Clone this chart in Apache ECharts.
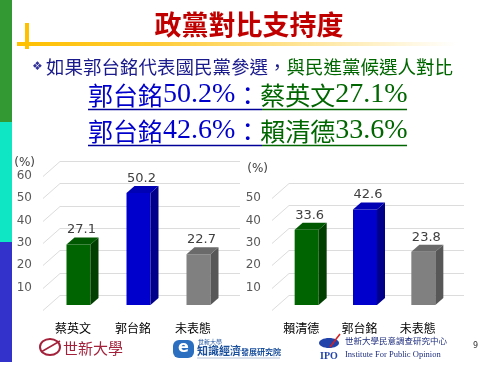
<!DOCTYPE html>
<html>
<head>
<meta charset="utf-8">
<script src="https://cdn.jsdelivr.net/npm/echarts@6/dist/echarts.min.js"></script>
<style>
html,body{margin:0;padding:0;background:#fff;}
#c{width:488px;height:367px;}
</style>
</head>
<body>
<div id="c"></div>
<script>
// ---- data ----
const categoriesLeft = ['蔡英文', '郭台銘', '未表態'];
const valuesLeft = [27.1, 50.2, 22.7];
const categoriesRight = ['賴清德', '郭台銘', '未表態'];
const valuesRight = [33.6, 42.6, 23.8];
const yTicksLeft = [0, 10, 20, 30, 40, 50, 60];
const yTicksRight = [0, 10, 20, 30, 40, 50];

// ---- styles ----
const barStyles = [
  { front: '#006400', side: '#003f00', top: '#005800' },
  { front: '#0000CC', side: '#00008A', top: '#0000B4' },
  { front: '#808080', side: '#575757', top: '#6a6a6a' }
];
const CJK = 'Noto Sans CJK TC';
const DEPTH = { dx: 8, dy: -7 };      // bar depth
const SHIFT = { dx: 5.5, dy: -5 };    // bar front offset from floor edge
const WALL = { dx: 17, dy: -15 };     // back wall offset
const BAR_W = 24;

function gridRender(params, api) {
  const cs = params.coordSys;
  const v = api.value(0);
  const y = Math.round(api.coord([0, v])[1]) + 0.5;
  const x0 = cs.x;
  return {
    type: 'polyline',
    shape: { points: [[x0, y], [x0 + WALL.dx, y + WALL.dy], [x0 + cs.width + WALL.dx, y + WALL.dy]] },
    style: { stroke: '#DCDCDC', lineWidth: 1, fill: null },
    z2: 0
  };
}

function barRender(params, api) {
  const idx = api.value(0);
  const v = api.value(1);
  const top = api.coord([idx, v]);
  const base = api.coord([idx, 0]);
  const st = barStyles[idx % barStyles.length];
  const fx = top[0] - BAR_W / 2 + SHIFT.dx;
  const ft = top[1] + SHIFT.dy;
  const fb = base[1] + SHIFT.dy;
  return {
    type: 'group',
    children: [
      { type: 'rect', shape: { x: fx, y: ft, width: BAR_W, height: fb - ft }, style: { fill: st.front } },
      { type: 'polygon', shape: { points: [[fx + BAR_W, ft], [fx + BAR_W + DEPTH.dx, ft + DEPTH.dy], [fx + BAR_W + DEPTH.dx, fb + DEPTH.dy], [fx + BAR_W, fb]] }, style: { fill: st.side } },
      { type: 'polygon', shape: { points: [[fx, ft], [fx + DEPTH.dx, ft + DEPTH.dy], [fx + BAR_W + DEPTH.dx, ft + DEPTH.dy], [fx + BAR_W, ft]] }, style: { fill: st.top } },
      { type: 'text', style: { text: v.toFixed(1), x: fx + BAR_W / 2 + 3, y: ft + DEPTH.dy - 1, textAlign: 'center', textVerticalAlign: 'bottom', font: '13px "DejaVu Sans"', fill: '#404040' } }
    ]
  };
}

function yAxisCfg(ticks, gridIndex, nameGap, padRight) {
  return {
    type: 'value', gridIndex: gridIndex,
    min: ticks[0], max: ticks[ticks.length - 1], interval: ticks[1] - ticks[0],
    name: '(%)', nameLocation: 'end', nameGap: nameGap,
    nameTextStyle: { fontFamily: 'DejaVu Sans', fontSize: 12, color: '#404040', align: 'right', verticalAlign: 'middle', padding: [0, padRight, 0, 0] },
    axisLine: { show: false }, axisTick: { show: false }, splitLine: { show: false },
    axisLabel: { fontFamily: 'DejaVu Sans', fontSize: 12, color: '#595959', margin: 11, formatter: v => v === 0 ? '' : String(v) }
  };
}
function xAxisCfg(cats, gridIndex) {
  return {
    type: 'category', gridIndex: gridIndex, data: cats,
    axisLine: { show: false }, axisTick: { show: false },
    axisLabel: { fontFamily: CJK, fontSize: 12, color: '#000', margin: 12 }
  };
}

const headline = (a, av, b, bv) =>
  `{bz|${a}}{bd|${av.toFixed(1)}%}{bz|：}{gz|${b}}{gd|${bv.toFixed(1)}%}`;
const headRich = {
  bz: { fontFamily: CJK, fontSize: 25, fill: '#0000CC', lineHeight: 32 },
  bd: { fontFamily: 'Liberation Serif', fontSize: 28, fill: '#0000CC', lineHeight: 32 },
  gz: { fontFamily: CJK, fontSize: 25, fill: '#006600', lineHeight: 32 },
  gd: { fontFamily: 'Liberation Serif', fontSize: 28, fill: '#006600', lineHeight: 32 }
};

const chart = echarts.init(document.getElementById('c'), null, { renderer: 'canvas' });
chart.setOption({
  animation: false,
  backgroundColor: '#ffffff',
  textStyle: { fontFamily: CJK },
  grid: [
    { left: 43, width: 180, top: 176, height: 134 },
    { left: 272, width: 175, top: 198, height: 112 }
  ],
  xAxis: [xAxisCfg(categoriesLeft, 0), xAxisCfg(categoriesRight, 1)],
  yAxis: [yAxisCfg(yTicksLeft, 0, 13, 8), yAxisCfg(yTicksRight, 1, 29, 4)],
  series: [
    { type: 'custom', xAxisIndex: 0, yAxisIndex: 0, z: 1, data: yTicksLeft, encode: { y: 0 }, renderItem: gridRender, silent: true },
    { type: 'custom', xAxisIndex: 1, yAxisIndex: 1, z: 1, data: yTicksRight, encode: { y: 0 }, renderItem: gridRender, silent: true },
    { type: 'custom', xAxisIndex: 0, yAxisIndex: 0, z: 2, data: valuesLeft.map((v, i) => [i, v]), encode: { x: 0, y: 1 }, renderItem: barRender },
    { type: 'custom', xAxisIndex: 1, yAxisIndex: 1, z: 2, data: valuesRight.map((v, i) => [i, v]), encode: { x: 0, y: 1 }, renderItem: barRender }
  ],
  graphic: [
    // left stripe
    { type: 'rect', shape: { x: 0, y: 0, width: 12, height: 122 }, style: { fill: '#339933' } },
    { type: 'rect', shape: { x: 0, y: 122, width: 12, height: 120 }, style: { fill: '#0FE6C3' } },
    { type: 'rect', shape: { x: 0, y: 242, width: 12, height: 120 }, style: { fill: '#3333CC' } },
    // yellow decoration
    { type: 'rect', shape: { x: 17, y: 42, width: 440, height: 4 }, style: { fill: new echarts.graphic.LinearGradient(0, 0, 1, 0, [{ offset: 0, color: '#FFC000' }, { offset: 0.3, color: '#FFCB33' }, { offset: 1, color: '#FFFFFF' }]) } },
    { type: 'rect', shape: { x: 25, y: 23, width: 4, height: 26 }, style: { fill: '#FFC000' } },
    // title
    { type: 'text', style: { text: '政黨對比支持度', x: 249, y: 25, textAlign: 'center', textVerticalAlign: 'middle', font: 'bold 27px "Noto Sans CJK TC"', fill: '#C00000' } },
    // subtitle
    { type: 'text', style: {
        text: '{b|❖} {n|如果郭台銘代表國民黨參選，}{g|與民進黨候選人對比}',
        x: 32, y: 67, textAlign: 'left', textVerticalAlign: 'middle',
        rich: {
          b: { fontFamily: 'DejaVu Sans', fontSize: 12, fill: '#333399', lineHeight: 22 },
          n: { fontFamily: CJK, fontSize: 18.5, fill: '#1A1A8C', lineHeight: 22 },
          g: { fontFamily: CJK, fontSize: 18.5, fill: '#006600', lineHeight: 22 }
        } } },
    // headlines
    { type: 'text', style: { text: headline('郭台銘', valuesLeft[1], '蔡英文', valuesLeft[0]), x: 88, y: 95, textAlign: 'left', textVerticalAlign: 'middle', rich: headRich } },
    { type: 'text', style: { text: headline('郭台銘', valuesRight[1], '賴清德', valuesRight[0]), x: 88, y: 131, textAlign: 'left', textVerticalAlign: 'middle', rich: headRich } },
    { type: 'line', shape: { x1: 88, y1: 109.5, x2: 262, y2: 109.5 }, style: { stroke: '#000099', lineWidth: 1.5 } },
    { type: 'line', shape: { x1: 262, y1: 109.5, x2: 407, y2: 109.5 }, style: { stroke: '#006600', lineWidth: 1.5 } },
    { type: 'line', shape: { x1: 88, y1: 145.5, x2: 262, y2: 145.5 }, style: { stroke: '#000099', lineWidth: 1.5 } },
    { type: 'line', shape: { x1: 262, y1: 145.5, x2: 407, y2: 145.5 }, style: { stroke: '#006600', lineWidth: 1.5 } },
    // logo 1: 世新大學
    { type: 'ellipse', shape: { cx: 50, cy: 347, rx: 10, ry: 8 }, style: { stroke: '#A3213A', lineWidth: 2, fill: null } },
    { type: 'line', shape: { x1: 41, y1: 352, x2: 60, y2: 341 }, style: { stroke: '#A3213A', lineWidth: 1.5 } },
    { type: 'text', style: { text: '世新大學', x: 63, y: 348, textAlign: 'left', textVerticalAlign: 'middle', font: '15px "Noto Sans CJK TC"', fill: '#A3213A' } },
    // logo 2: 知識經濟發展研究院
    { type: 'rect', shape: { x: 173, y: 340, width: 21, height: 18, r: 6 }, style: { fill: '#2A6FC0' } },
    { type: 'text', style: { text: 'e', x: 183.5, y: 348, textAlign: 'center', textVerticalAlign: 'middle', font: 'bold 16px "DejaVu Sans"', fill: '#ffffff' } },
    { type: 'text', style: { text: '世新大學', x: 198, y: 342, textAlign: 'left', textVerticalAlign: 'middle', font: '6px "Noto Sans CJK TC"', fill: '#1A4F9C' } },
    { type: 'text', style: { text: '知識經濟', x: 197, y: 351, textAlign: 'left', textVerticalAlign: 'middle', font: 'bold 11px "Noto Sans CJK TC"', fill: '#1A4F9C' } },
    { type: 'text', style: { text: '發展研究院', x: 241, y: 352, textAlign: 'left', textVerticalAlign: 'middle', font: 'bold 8px "Noto Sans CJK TC"', fill: '#1A4F9C' } },
    { type: 'line', shape: { x1: 197, y1: 358, x2: 280, y2: 358 }, style: { stroke: '#B8C4D8', lineWidth: 1 } },
    // logo 3: IPO
    { type: 'ellipse', shape: { cx: 329, cy: 343, rx: 10, ry: 5 }, style: { fill: '#2244AA' } },
    { type: 'line', shape: { x1: 330, y1: 347, x2: 340, y2: 334 }, style: { stroke: '#D42020', lineWidth: 1.5 } },
    { type: 'text', style: { text: 'IPO', x: 320, y: 356, textAlign: 'left', textVerticalAlign: 'middle', font: 'bold 10px "Liberation Serif"', fill: '#2244AA' } },
    { type: 'text', style: { text: '世新大學民意調查研究中心', x: 345, y: 341, textAlign: 'left', textVerticalAlign: 'middle', font: '8.5px "Noto Sans CJK TC"', fill: '#1F2F7F' } },
    { type: 'text', style: { text: 'Institute For Public Opinion', x: 345, y: 355, textAlign: 'left', textVerticalAlign: 'middle', font: '8.5px "Liberation Serif"', fill: '#1F2F7F' } },
    { type: 'text', style: { text: '9', x: 473, y: 346, textAlign: 'left', textVerticalAlign: 'middle', font: '8px "DejaVu Sans"', fill: '#333' } }
  ]
});
</script>
</body>
</html>
